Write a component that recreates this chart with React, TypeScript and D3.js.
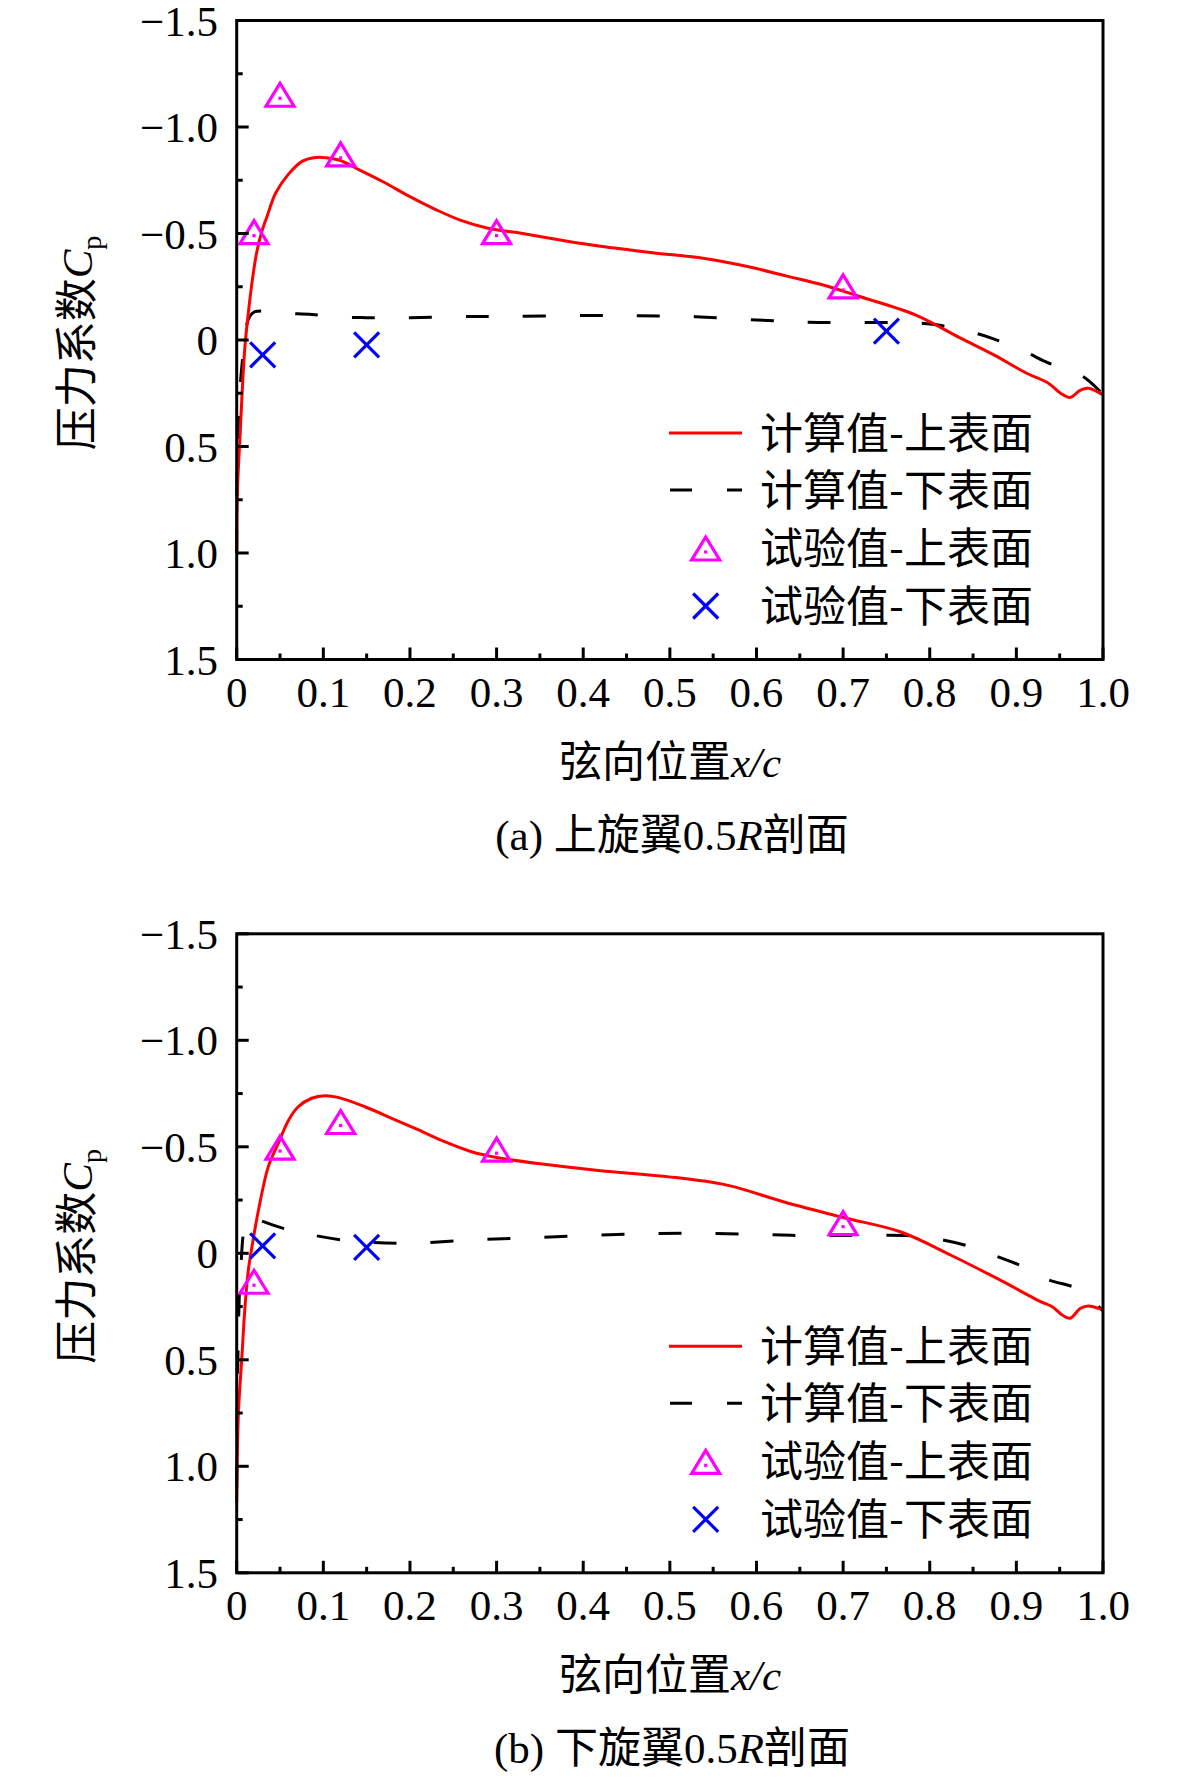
import React from 'react';
import * as d3 from 'd3';

type Pt = [number, number];

const xTicks = [0, 0.1, 0.2, 0.3, 0.4, 0.5, 0.6, 0.7, 0.8, 0.9, 1.0];
const xTickLabels = ['0', '0.1', '0.2', '0.3', '0.4', '0.5', '0.6', '0.7', '0.8', '0.9', '1.0'];
const yTicks = [-1.5, -1.0, -0.5, 0, 0.5, 1.0, 1.5];
const yTickLabels = ['\u22121.5', '\u22121.0', '\u22120.5', '0', '0.5', '1.0', '1.5'];

const legendLabels = ['计算值-上表面', '计算值-下表面', '试验值-上表面', '试验值-下表面'];

// (a) 上旋翼
const calcUpperA: Pt[] = [
  [0, 1.0], [0.001, 0.69], [0.004, 0.44], [0.0065, 0.23], [0.0095, 0.03], [0.0135, -0.13],
  [0.018, -0.28], [0.023, -0.41], [0.029, -0.51], [0.035, -0.58], [0.045, -0.69], [0.06, -0.78],
  [0.076, -0.84], [0.089, -0.856], [0.103, -0.856], [0.118, -0.845], [0.141, -0.8], [0.169, -0.743],
  [0.2, -0.673], [0.231, -0.61], [0.258, -0.563], [0.29, -0.525], [0.33, -0.5], [0.38, -0.465],
  [0.42, -0.44], [0.48, -0.41], [0.54, -0.383], [0.591, -0.344], [0.635, -0.3], [0.677, -0.258],
  [0.72, -0.203], [0.784, -0.117], [0.835, -0.01], [0.874, 0.07], [0.912, 0.156], [0.937, 0.203],
  [0.951, 0.25], [0.962, 0.27], [0.974, 0.235], [0.983, 0.227], [1.0, 0.258],
];
const calcLowerA: Pt[] = [
  [0, 1.0], [0.001, 0.5], [0.004, 0.22], [0.007, 0.08], [0.01, -0.04], [0.015, -0.11],
  [0.021, -0.133], [0.06, -0.125], [0.087, -0.12], [0.123, -0.107], [0.15, -0.105], [0.2, -0.105],
  [0.26, -0.11], [0.3, -0.11], [0.4, -0.115], [0.465, -0.114], [0.53, -0.109], [0.6, -0.094],
  [0.66, -0.083], [0.725, -0.082], [0.79, -0.079], [0.81, -0.07], [0.845, -0.04], [0.872, -0.008],
  [0.91, 0.055], [0.937, 0.108], [0.974, 0.164], [0.995, 0.235], [1.0, 0.26],
];
const testUpperA: Pt[] = [[0.02, -0.49], [0.05, -1.135], [0.12, -0.855], [0.3, -0.49], [0.7, -0.235]];
const testLowerA: Pt[] = [[0.03, 0.07], [0.15, 0.023], [0.75, -0.042]];

// (b) 下旋翼
const calcUpperB: Pt[] = [
  [0, 1.17], [0.002, 0.75], [0.006, 0.485], [0.0096, 0.25], [0.0134, 0.08], [0.018, -0.04],
  [0.025, -0.2], [0.0365, -0.407], [0.048, -0.516], [0.06, -0.626], [0.071, -0.688], [0.0866, -0.728],
  [0.102, -0.74], [0.117, -0.732], [0.148, -0.688], [0.179, -0.634], [0.21, -0.579], [0.24, -0.524],
  [0.271, -0.477], [0.3, -0.45], [0.35, -0.42], [0.42, -0.388], [0.497, -0.36], [0.566, -0.32],
  [0.631, -0.242], [0.699, -0.169], [0.766, -0.101], [0.824, 0.008], [0.881, 0.125], [0.928, 0.227],
  [0.941, 0.25], [0.953, 0.29], [0.962, 0.305], [0.974, 0.258], [0.983, 0.247], [1.0, 0.266],
];
const calcLowerB: Pt[] = [
  [0, 1.1], [0.001, 0.6], [0.003, 0.2], [0.005, 0.05], [0.008, -0.1], [0.012, -0.155],
  [0.019, -0.17], [0.03, -0.15], [0.06, -0.11], [0.087, -0.086], [0.123, -0.062], [0.148, -0.053],
  [0.2, -0.047], [0.27, -0.062], [0.35, -0.075], [0.45, -0.09], [0.53, -0.094], [0.6, -0.089],
  [0.66, -0.083], [0.72, -0.084], [0.78, -0.082], [0.805, -0.07], [0.843, -0.036], [0.87, 0.003],
  [0.91, 0.066], [0.935, 0.121], [0.974, 0.172], [0.995, 0.25], [1.0, 0.27],
];
const testUpperB: Pt[] = [[0.02, 0.15], [0.05, -0.48], [0.12, -0.6], [0.3, -0.47], [0.7, -0.125]];
const testLowerB: Pt[] = [[0.03, -0.035], [0.15, -0.028]];

const serif = "'Liberation Serif', 'Times New Roman', serif";
const cjk = "'Noto Sans CJK SC', 'Noto Sans CJK JP', sans-serif";
const RED = '#ff0000';
const MAG = '#ff00ff';
const BLUE = '#0000ff';

const Triangle = ({ cx, cy }: { cx: number; cy: number }) => (
  <g transform={`translate(${cx},${cy})`}>
    <path d="M0,-15L14,8L-14,8Z" fill="none" stroke={MAG} strokeWidth={3.2} strokeLinejoin="miter" />
    <rect x={-1.6} y={-1.6} width={3.2} height={3.2} fill={MAG} />
  </g>
);

const Cross = ({ cx, cy }: { cx: number; cy: number }) => (
  <g transform={`translate(${cx},${cy})`} stroke={BLUE} strokeWidth={3.2}>
    <line x1={-12.5} y1={-12.5} x2={12.5} y2={12.5} />
    <line x1={-12.5} y1={12.5} x2={12.5} y2={-12.5} />
  </g>
);

interface PanelProps {
  dy: number;
  upper: Pt[];
  lower: Pt[];
  tri: Pt[];
  cross: Pt[];
  tag: string;
  wing: string;
}

const Panel = ({ dy, upper, lower, tri, cross, tag, wing }: PanelProps) => {
  const x = d3.scaleLinear().domain([0, 1]).range([236.7, 1103]);
  const y = d3.scaleLinear().domain([-1.5, 1.5]).range([20.5, 659.5]);
  const line = d3
    .line<Pt>()
    .x((d) => x(d[0]))
    .y((d) => y(d[1]))
    .curve(d3.curveCatmullRom.alpha(0.5));

  const [x0, x1] = x.range();
  const [y0, y1] = y.range();
  const xMinor = d3.range(0.05, 1, 0.1);
  const yMinor = d3.range(-1.25, 1.5, 0.5);
  const legendRows = [433, 490, 548, 606];

  return (
    <g transform={`translate(0,${dy})`}>
      {/* curves */}
      <path d={line(lower) || ''} fill="none" stroke="#000" strokeWidth={3} strokeDasharray="23,34" />
      <path d={line(upper) || ''} fill="none" stroke={RED} strokeWidth={3} />
      {tri.map((d, i) => (
        <Triangle key={'t' + i} cx={x(d[0])} cy={y(d[1])} />
      ))}
      {cross.map((d, i) => (
        <Cross key={'c' + i} cx={x(d[0])} cy={y(d[1])} />
      ))}

      {/* frame */}
      <rect x={x0} y={y0} width={x1 - x0} height={y1 - y0} fill="none" stroke="#000" strokeWidth={3} />

      {/* ticks */}
      {xTicks.map((t) => (
        <line key={'xt' + t} x1={x(t)} x2={x(t)} y1={y1} y2={y1 - 12} stroke="#000" strokeWidth={3} />
      ))}
      {xMinor.map((t) => (
        <line key={'xm' + t} x1={x(t)} x2={x(t)} y1={y1} y2={y1 - 6} stroke="#000" strokeWidth={3} />
      ))}
      {yTicks.map((t) => (
        <line key={'yt' + t} x1={x0} x2={x0 + 12} y1={y(t)} y2={y(t)} stroke="#000" strokeWidth={3} />
      ))}
      {yMinor.map((t) => (
        <line key={'ym' + t} x1={x0} x2={x0 + 6} y1={y(t)} y2={y(t)} stroke="#000" strokeWidth={3} />
      ))}

      {/* tick labels */}
      {xTicks.map((t, i) => (
        <text key={'xl' + t} x={x(t)} y={707} textAnchor="middle" fontFamily={serif} fontSize={43}>
          {xTickLabels[i]}
        </text>
      ))}
      {yTicks.map((t, i) => (
        <text key={'yl' + t} x={218} y={y(t) + 15} textAnchor="end" fontFamily={serif} fontSize={43}>
          {yTickLabels[i]}
        </text>
      ))}

      {/* axis titles */}
      <text transform="translate(92,343) rotate(-90)" textAnchor="middle" fontSize={43}>
        <tspan fontFamily={cjk}>压力系数</tspan>
        <tspan fontFamily={serif} fontStyle="italic">C</tspan>
        <tspan fontFamily={serif} fontSize={28} dy={9}>p</tspan>
      </text>
      <text x={670} y={777} textAnchor="middle" fontSize={43}>
        <tspan fontFamily={cjk}>弦向位置</tspan>
        <tspan fontFamily={serif} fontStyle="italic">x/c</tspan>
      </text>
      <text x={672} y={850} textAnchor="middle" fontSize={43}>
        <tspan fontFamily={serif}>{`(${tag}) `}</tspan>
        <tspan fontFamily={cjk}>{wing}</tspan>
        <tspan fontFamily={serif}>0.5</tspan>
        <tspan fontFamily={serif} fontStyle="italic">R</tspan>
        <tspan fontFamily={cjk}>剖面</tspan>
      </text>

      {/* legend */}
      <line x1={669} x2={742} y1={legendRows[0]} y2={legendRows[0]} stroke={RED} strokeWidth={3} />
      <line x1={670} x2={742} y1={legendRows[1]} y2={legendRows[1]} stroke="#000" strokeWidth={3} strokeDasharray="22,35" />
      <Triangle cx={705.7} cy={legendRows[2] + 4} />
      <Cross cx={705.7} cy={legendRows[3]} />
      {legendLabels.map((l, i) => (
        <text key={l + i} x={760} y={legendRows[i] + 16} fontFamily={cjk} fontSize={43}>
          {l}
        </text>
      ))}
    </g>
  );
};

export default function App() {
  return (
    <svg
      width={1181}
      height={1779}
      viewBox="0 0 1181 1779"
      style={{ position: 'absolute', left: 0, top: 0, background: '#fff' }}
    >
      <rect width={1181} height={1779} fill="#fff" />
      <Panel dy={0} upper={calcUpperA} lower={calcLowerA} tri={testUpperA} cross={testLowerA} tag="a" wing="上旋翼" />
      <Panel dy={913.3} upper={calcUpperB} lower={calcLowerB} tri={testUpperB} cross={testLowerB} tag="b" wing="下旋翼" />
    </svg>
  );
}
